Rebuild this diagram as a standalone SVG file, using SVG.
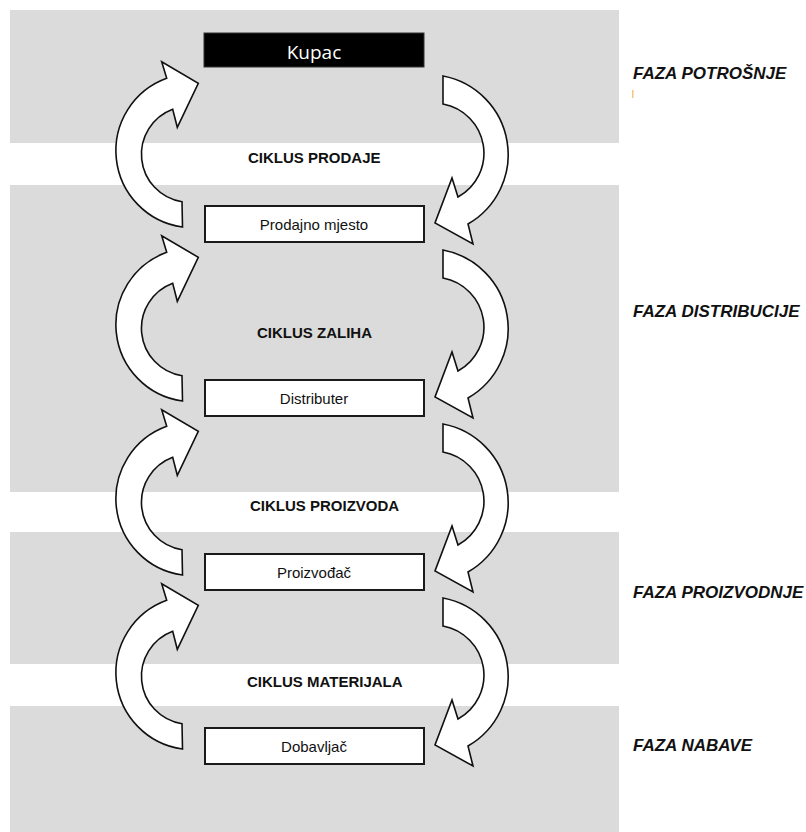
<svg xmlns="http://www.w3.org/2000/svg" xmlns:xlink="http://www.w3.org/1999/xlink" width="806" height="832" viewBox="0 0 806 832">
<style>
.band{fill:#dbdbdb}
.arrow{fill:#ffffff;stroke:#111111;stroke-width:1.6;stroke-linejoin:miter}
.box{fill:#ffffff;stroke:#1a1a1a;stroke-width:2}
.boxlbl{font-family:"Liberation Sans",Arial,sans-serif;font-size:15px;fill:#111111;text-anchor:middle}
.cyc{font-family:"Liberation Sans",Arial,sans-serif;font-size:15px;font-weight:bold;fill:#111111}
.phase{font-family:"Liberation Sans",Arial,sans-serif;font-size:17px;font-style:italic;font-weight:bold;fill:#111111}
</style>
<defs>
<path id="arrL" d="M182.5,227 A77,77 0 0 1 166.7,78.3 L161.7,61.7 L198.3,83.3 L177.3,127.3 L172.7,109.3 A48,48 0 0 0 182,201.7 Z"/>
<path id="arrR" d="M443,76 A80,80 0 0 1 468,224 L473,244 L435,223 L452,178 L458,197 A50,50 0 0 0 443,104 Z"/>
</defs>
<g id="bands">
<rect class="band" x="10" y="10" width="609" height="133"/>
<rect class="band" x="10" y="185" width="609" height="307"/>
<rect class="band" x="10" y="532" width="609" height="132"/>
<rect class="band" x="10" y="706" width="609" height="126"/>
</g>
<g id="connectors">
<use xlink:href="#arrL" href="#arrL" class="arrow"/>
<use xlink:href="#arrR" href="#arrR" class="arrow"/>
<use xlink:href="#arrL" href="#arrL" class="arrow" transform="translate(0,174)"/>
<use xlink:href="#arrR" href="#arrR" class="arrow" transform="translate(0,174)"/>
<use xlink:href="#arrL" href="#arrL" class="arrow" transform="translate(0,348)"/>
<use xlink:href="#arrR" href="#arrR" class="arrow" transform="translate(0,348)"/>
<use xlink:href="#arrL" href="#arrL" class="arrow" transform="translate(0,522)"/>
<use xlink:href="#arrR" href="#arrR" class="arrow" transform="translate(0,522)"/>
</g>
<g id="kupac">
<rect x="204" y="33" width="220" height="34" fill="#000000" stroke="#333333" stroke-width="1"/>
<text x="314" y="59" font-family="'Open Sans','Liberation Sans',sans-serif" font-size="19" fill="#ffffff" text-anchor="middle">Kupac</text>
</g>
<g id="prodajno-mjesto">
<rect class="box" x="205" y="206" width="219" height="36"/>
<text class="boxlbl" x="314" y="229.5">Prodajno mjesto</text>
</g>
<g id="distributer">
<rect class="box" x="205" y="380" width="219" height="36"/>
<text class="boxlbl" x="314" y="403.5">Distributer</text>
</g>
<g id="proizvodjac">
<rect class="box" x="205" y="554" width="219" height="36"/>
<text class="boxlbl" x="314" y="577.5">Proizvođač</text>
</g>
<g id="dobavljac">
<rect class="box" x="205" y="728" width="219" height="36"/>
<text class="boxlbl" x="314" y="751.5">Dobavljač</text>
</g>
<g id="cycle-labels">
<text class="cyc" x="248" y="163">CIKLUS PRODAJE</text>
<text class="cyc" x="257" y="338">CIKLUS ZALIHA</text>
<text class="cyc" x="250" y="511">CIKLUS PROIZVODA</text>
<text class="cyc" x="247" y="686.5">CIKLUS MATERIJALA</text>
</g>
<g id="phase-labels">
<text class="phase" x="633" y="79">FAZA POTROŠNJE</text>
<rect x="632" y="90" width="1.5" height="8" fill="#f5c57a"/>
<text class="phase" x="633" y="317">FAZA DISTRIBUCIJE</text>
<text class="phase" x="633" y="598">FAZA PROIZVODNJE</text>
<text class="phase" x="633" y="751">FAZA NABAVE</text>
</g>
</svg>
